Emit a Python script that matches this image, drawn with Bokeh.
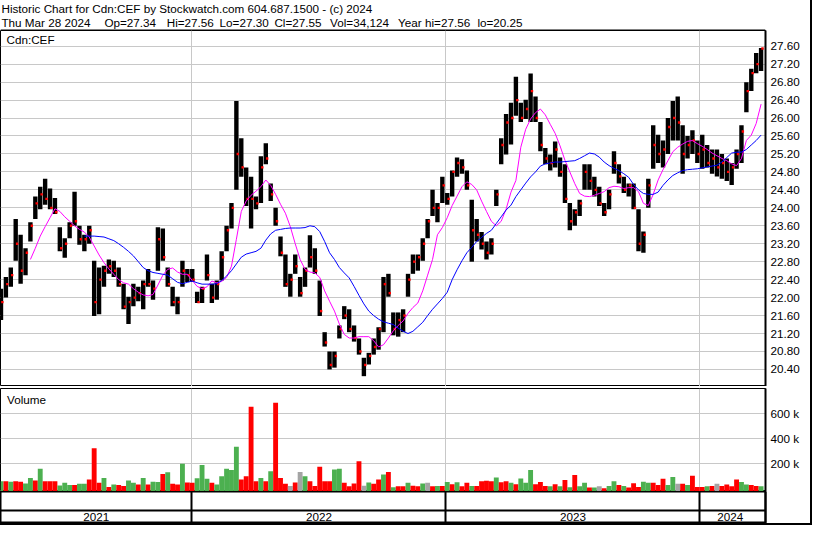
import numpy as np
import pandas as pd
from bokeh.plotting import figure
from bokeh.layouts import column
from bokeh.models import (Range1d, FixedTicker, NumeralTickFormatter, CustomJSTickFormatter,
                          Span, Label, Grid)
from bokeh.core.properties import value
from bokeh.embed import file_html
from bokeh.resources import INLINE

FONT = "Liberation Sans"
FS = "11.7px"
DAY = 86400000.0
W = 810

# ---------------- text ----------------
title_line = "Historic Chart for Cdn:CEF by Stockwatch.com 604.687.1500 - (c) 2024"
quote_items = ["Thu Mar 28 2024", "Op=27.34", "Hi=27.56", "Lo=27.30", "Cl=27.55",
               "Vol=34,124", "Year hi=27.56", "lo=20.25"]
quote_x = [1, 110, 176, 232, 290, 349, 421, 505]
symbol = "Cdn:CEF"
volume_title = "Volume"

first_day = "2021-04-01"
last_day = "2024-03-28"
year_labels = ["2021", "2022", "2023", "2024"]
year_starts = ["2022-01-01", "2023-01-01", "2024-01-01"]

price_ticks = [20.40, 20.80, 21.20, 21.60, 22.00, 22.40, 22.80, 23.20, 23.60, 24.00,
               24.40, 24.80, 25.20, 25.60, 26.00, 26.40, 26.80, 27.20, 27.60]
volume_ticks = [200000, 400000, 600000]

# ---------------- weekly price data ----------------
week_low = [21.50, 22.00, 22.24, 22.82, 22.31, 22.50, 23.25, 23.75, 23.97, 24.07,
            23.97, 23.86, 23.03, 22.89, 23.32, 23.60, 23.18, 23.03, 23.20, 21.59,
            21.63, 22.24, 22.53, 22.46, 22.24, 21.74, 21.41, 21.81, 21.92, 21.74,
            22.24, 21.95, 22.60, 22.82, 22.24, 21.81, 21.63, 22.24, 22.35, 22.35,
            21.88, 21.88, 22.38, 21.88, 21.95, 22.38, 23.03, 23.54, 24.40, 24.69,
            24.04, 23.54, 23.97, 24.11, 24.97, 24.15, 23.60, 22.92, 22.24, 22.02,
            22.53, 22.02, 22.24, 22.67, 22.53, 21.59, 20.91, 20.40, 20.44, 21.09,
            21.52, 21.23, 21.02, 20.73, 20.25, 20.51, 20.73, 20.84, 21.23, 22.02,
            21.16, 21.13, 21.23, 22.02, 22.53, 22.60, 22.82, 23.32, 23.82, 23.68,
            24.11, 24.07, 24.25, 24.69, 24.76, 24.40, 22.80, 23.25, 23.07, 22.85,
            22.96, 24.04, 24.97, 25.19, 25.41, 26.05, 25.91, 25.98, 25.91, 25.91,
            25.26, 24.97, 24.83, 24.90, 24.69, 24.11, 23.50, 23.60, 23.82, 24.40,
            24.40, 24.25, 24.04, 23.82, 23.97, 24.76, 24.54, 24.33, 24.25, 23.97,
            23.03, 23.00, 24.00, 24.87, 25.00, 24.90, 25.20, 25.50, 25.50, 24.76,
            25.10, 25.20, 25.00, 24.87, 24.90, 24.76, 24.70, 24.65, 24.60, 24.51,
            24.87, 25.00, 26.13, 26.60, 27.00, 27.05]

week_high = [22.20, 22.46, 22.67, 23.75, 23.40, 23.10, 23.68, 24.25, 24.47, 24.65,
             24.43, 24.22, 23.57, 23.32, 23.68, 24.36, 23.60, 23.40, 23.60, 22.82,
             22.67, 22.71, 22.85, 22.82, 22.67, 22.31, 22.02, 22.31, 22.24, 22.38,
             22.64, 22.38, 23.57, 23.54, 22.67, 22.24, 22.02, 22.82, 22.64, 22.64,
             22.13, 22.24, 22.96, 22.31, 22.38, 23.03, 23.60, 24.11, 26.38, 25.55,
             24.90, 24.69, 24.25, 25.15, 25.44, 24.54, 24.00, 23.36, 22.96, 22.53,
             22.96, 22.46, 22.67, 23.39, 23.10, 22.38, 21.23, 20.80, 20.80, 21.38,
             21.81, 21.74, 21.38, 21.09, 20.66, 20.77, 21.09, 21.34, 22.46, 22.53,
             21.67, 21.67, 21.74, 22.53, 22.96, 22.96, 23.32, 23.75, 24.40, 24.11,
             24.69, 24.33, 24.83, 25.12, 25.08, 24.83, 24.18, 23.75, 23.46, 23.25,
             23.32, 24.40, 25.55, 26.09, 26.34, 26.92, 26.34, 26.41, 26.99, 26.48,
             25.91, 25.33, 25.19, 25.48, 25.12, 24.97, 24.11, 23.97, 24.18, 24.97,
             24.97, 24.69, 24.47, 24.11, 24.40, 25.26, 24.97, 24.69, 24.54, 24.54,
             23.97, 23.47, 24.65, 25.84, 25.63, 25.50, 26.00, 26.38, 26.48, 25.84,
             25.60, 25.73, 25.50, 25.63, 25.40, 25.30, 25.30, 25.20, 25.10, 25.00,
             25.30, 25.84, 26.80, 27.10, 27.45, 27.56]

week_close = [21.9, 22.3, 22.5, 23.2, 22.6, 23.0, 23.6, 24.1, 24.3, 24.2,
              24.0, 23.9, 23.1, 23.2, 23.6, 23.7, 23.3, 23.3, 23.5, 21.9,
              22.4, 22.6, 22.7, 22.6, 22.3, 21.8, 21.9, 22.0, 22.1, 22.3,
              22.3, 22.2, 23.3, 22.9, 22.3, 21.9, 21.9, 22.6, 22.5, 22.4,
              21.9, 22.2, 22.5, 22.0, 22.3, 22.9, 23.5, 24.0, 25.2, 24.9,
              24.2, 24.2, 24.1, 24.9, 25.1, 24.3, 23.7, 23.0, 22.3, 22.4,
              22.7, 22.1, 22.6, 22.9, 22.6, 21.7, 21.0, 20.5, 20.7, 21.3,
              21.6, 21.3, 21.1, 20.8, 20.5, 20.7, 20.9, 21.3, 22.3, 22.1,
              21.3, 21.5, 21.6, 22.4, 22.8, 22.9, 23.2, 23.7, 24.0, 24.0,
              24.5, 24.2, 24.8, 25.0, 24.9, 24.5, 23.5, 23.4, 23.2, 23.0,
              23.2, 24.3, 25.4, 25.9, 26.0, 26.4, 26.0, 26.2, 26.6, 26.0,
              25.4, 25.1, 25.0, 25.3, 24.8, 24.2, 23.7, 23.9, 24.1, 24.8,
              24.6, 24.4, 24.1, 23.9, 24.3, 25.0, 24.7, 24.4, 24.5, 24.0,
              23.2, 23.4, 24.5, 25.4, 25.2, 25.3, 25.8, 26.0, 25.9, 25.2,
              25.4, 25.5, 25.2, 25.3, 25.0, 25.1, 24.9, 25.0, 24.8, 24.9,
              25.2, 25.7, 26.6, 27.0, 27.2, 27.55]

# moving averages, starting at given week index
ma_fast_start = 6
ma_fast = [22.85, 23.10, 23.37, 23.58, 23.78, 23.98, 23.92, 23.80, 23.70, 23.60,
           23.52, 23.46, 23.35, 23.15, 22.95, 22.78, 22.64, 22.52, 22.40, 22.33,
           22.30, 22.20, 22.12, 22.06, 22.04, 22.07, 22.28, 22.50, 22.63, 22.66,
           22.57, 22.52, 22.52, 22.38, 22.25, 22.20, 22.24, 22.37, 22.33, 22.36,
           22.45, 22.70, 23.30, 23.92, 24.15, 24.28, 24.37, 24.47, 24.62, 24.50,
           24.30, 24.08, 23.88, 23.58, 23.20, 22.85, 22.63, 22.57, 22.55, 22.45,
           22.15, 21.92, 21.70, 21.41, 21.18, 21.10, 21.10, 21.13, 21.13, 21.13,
           21.04, 20.90, 20.95, 21.10, 21.26, 21.38, 21.48, 21.65, 21.78, 21.88,
           22.15, 22.50, 22.85, 23.40, 23.56, 23.78, 24.05, 24.26, 24.47, 24.58,
           24.52, 24.40, 24.15, 23.92, 23.70, 23.60, 23.70, 23.97, 24.35, 24.61,
           25.35, 25.75, 25.98, 26.12, 26.20, 26.07, 25.86, 25.66, 25.38, 25.06,
           24.80, 24.54, 24.32, 24.26, 24.25, 24.28, 24.32, 24.36, 24.45, 24.48,
           24.47, 24.43, 24.45, 24.45, 24.36, 24.10, 24.05, 24.30, 24.62, 24.85,
           25.05, 25.25, 25.35, 25.42, 25.48, 25.50, 25.43, 25.37, 25.30, 25.22,
           25.16, 25.10, 25.05, 24.98, 24.94, 25.10, 25.50, 25.62, 25.88, 26.31]

ma_slow_start = 17
ma_slow = [23.37, 23.37, 23.37, 23.36, 23.35, 23.31, 23.27, 23.20, 23.12, 23.03,
           22.93, 22.80, 22.67, 22.60, 22.56, 22.54, 22.52, 22.50, 22.42, 22.34,
           22.31, 22.34, 22.37, 22.33, 22.30, 22.30, 22.30, 22.31, 22.38, 22.48,
           22.60, 22.75, 22.90, 22.97, 23.00, 23.03, 23.10, 23.28, 23.42, 23.50,
           23.52, 23.54, 23.55, 23.55, 23.55, 23.56, 23.60, 23.58, 23.47, 23.25,
           23.00, 22.85, 22.67, 22.55, 22.44, 22.25, 22.05, 21.86, 21.70, 21.60,
           21.52, 21.46, 21.43, 21.40, 21.32, 21.25, 21.20, 21.25, 21.35, 21.45,
           21.60, 21.74, 21.86, 21.98, 22.12, 22.40, 22.62, 22.82, 23.00, 23.12,
           23.25, 23.34, 23.43, 23.50, 23.65, 23.80, 23.95, 24.06, 24.25, 24.40,
           24.55, 24.69, 24.80, 24.93, 24.98, 25.00, 25.02, 25.02, 25.03, 25.04,
           25.05, 25.10, 25.16, 25.22, 25.20, 25.13, 25.02, 24.94, 24.88, 24.83,
           24.76, 24.68, 24.52, 24.40, 24.32, 24.30, 24.30, 24.35, 24.50, 24.62,
           24.72, 24.78, 24.83, 24.85, 24.86, 24.87, 24.89, 24.91, 24.93, 24.95,
           25.02, 25.12, 25.22, 25.24, 25.24, 25.30, 25.40, 25.50, 25.62]

# weekly volume (thousands) and bar colour code: R down, G up, Y unchanged
volume_k = [61, 60, 56, 61, 56, 43, 87, 66, 160, 61,
            61, 61, 26, 48, 30, 30, 40, 40, 74, 325,
            48, 87, 15, 35, 30, 23, 66, 48, 35, 87,
            35, 56, 54, 118, 133, 40, 35, 200, 50, 48,
            85, 190, 80, 48, 35, 100, 160, 150, 336, 74,
            100, 656, 61, 87, 61, 140, 689, 87, 40, 23,
            50, 135, 100, 60, 23, 177, 60, 60, 155, 160,
            48, 20, 42, 220, 25, 50, 40, 75, 115, 135,
            12, 20, 20, 48, 25, 20, 42, 48, 20, 23,
            23, 55, 36, 52, 20, 48, 23, 23, 60, 65,
            60, 90, 52, 60, 48, 36, 82, 48, 151, 36,
            55, 23, 20, 36, 20, 70, 12, 110, 20, 48,
            10, 10, 20, 5, 23, 61, 30, 23, 10, 45,
            15, 56, 48, 48, 30, 80, 30, 95, 40, 40,
            30, 105, 15, 15, 20, 23, 40, 23, 35, 20,
            74, 54, 35, 30, 23, 20]
volume_dir = ("GRGRRGGRGR" "RRGGGRGGRR" "RGRGRRGGRG" "RGGRGRRGRR" "GGGRGGGGGR"
              "RRRGRGRRRY" "RYGRRRRRGG" "RRRRYGRRGR" "GRRGRRGYRG" "RGRGRRGRRR"
              "RGRRGRGGGR" "RRGRGRGRGG" "RGYRGGRGRR" "RGGRRRGGYR" "GRRRGRYRRR"
              "RGGRRG")

# ---------------- helpers ----------------
def ms(s):
    return pd.Timestamp(s).value / 1e6

n = len(week_high)
centers = np.linspace(ms("2021-04-01 17:00"), ms("2024-03-28 21:00"), n)
xr = Range1d(ms("2021-04-01"), ms("2024-04-04 05:00"))
year_ms = [ms(d) for d in year_starts]
bounds = [ms(first_day)] + year_ms + [ms(last_day)]
label_mid = [(bounds[i] + bounds[i + 1]) / 2 for i in range(len(year_labels))]

GRID = "#c8c8c8"


def base_fig(height, y_range, **kw):
    p = figure(width=W, height=height, x_range=xr, y_range=y_range,
               x_axis_location=None, y_axis_location="right",
               toolbar_location=None, output_backend="svg",
               min_border_left=0, min_border_right=45,
               min_border_top=kw.get("top", 0), min_border_bottom=0,
               background_fill_color="white", border_fill_color="white")
    p.grid.visible = False
    return p


def style_axis(ax, ticks, formatter=None):
    ax.ticker = FixedTicker(ticks=ticks)
    if formatter is not None:
        ax.formatter = formatter
    ax.axis_line_color = "black"
    ax.axis_line_width = 2
    ax.major_tick_line_color = None
    ax.minor_tick_line_color = None
    ax.major_tick_out = 0
    ax.major_tick_in = 0
    ax.major_label_standoff = 5
    ax.major_label_text_font = FONT
    ax.major_label_text_font_size = FS
    ax.major_label_text_color = "black"


# ---------------- header ----------------
hdr = figure(width=W, height=30, x_range=Range1d(0, W), y_range=Range1d(0, 30),
             x_axis_location=None, y_axis_location=None, toolbar_location=None,
             output_backend="svg", min_border=0, outline_line_color=None)
hdr.grid.visible = False
hdr.text(x=[1], y=[22.5], text=[title_line], text_font=value(FONT), text_font_size=FS,
         text_baseline="middle", text_align="left", text_color="black")
hdr.text(x=quote_x, y=[8.5] * len(quote_x), text=quote_items, text_font=value(FONT),
         text_font_size=FS, text_baseline="middle", text_align="left", text_color="black")
hdr.segment(x0=[0], y0=[0.5], x1=[W], y1=[0.5], line_color="black", line_width=1)

# ---------------- price panel ----------------
pp = base_fig(356, Range1d(20.02, 27.95))
pp.add_layout(Grid(dimension=0, ticker=FixedTicker(ticks=year_ms), grid_line_color=GRID))
pp.add_layout(Grid(dimension=1, ticker=FixedTicker(ticks=price_ticks), grid_line_color=GRID))
style_axis(pp.yaxis[0], price_ticks, NumeralTickFormatter(format="0.00"))
pp.outline_line_color = "black"
pp.outline_line_width = 1

pp.vbar(x=centers, bottom=week_low, top=week_high, width=6.3 * DAY,
        fill_color="black", line_color=None)
pp.scatter(x=centers + 2.0 * DAY, y=week_close, marker="square", size=2.4,
           fill_color="#ff0000", line_color=None)
pp.line(x=centers[ma_fast_start:ma_fast_start + len(ma_fast)], y=ma_fast,
        line_color="#ff00ff", line_width=1)
pp.line(x=centers[ma_slow_start:ma_slow_start + len(ma_slow)], y=ma_slow,
        line_color="#0000ff", line_width=1)
pp.add_layout(Label(x=xr.start + 8.6 * DAY, y=27.74, text=symbol, text_font=FONT,
                    text_font_size=FS, text_baseline="middle", text_color="black"))

# ---------------- volume panel ----------------
VMIN, VMAX = -21000, 802000
pv = base_fig(105, Range1d(VMIN, VMAX), top=2)
pv.add_layout(Grid(dimension=0, ticker=FixedTicker(ticks=year_ms), grid_line_color=GRID))
pv.add_layout(Grid(dimension=1, ticker=FixedTicker(ticks=volume_ticks), grid_line_color=GRID))
style_axis(pv.yaxis[0], volume_ticks,
           CustomJSTickFormatter(code="return (tick/1000).toFixed(0) + ' k';"))
pv.outline_line_color = "black"
pv.outline_line_width = 1
cmap = {"R": "#ff0000", "G": "#4cb050", "Y": "#a4a4a4"}
vcolors = [cmap[c] for c in volume_dir]
pv.vbar(x=centers, bottom=VMIN, top=np.array(volume_k) * 1000.0, width=7.0 * DAY,
        fill_color=vcolors, line_color=None)
pv.add_layout(Label(x=xr.start + 9.5 * DAY, y=717000, text=volume_title, text_font=FONT,
                    text_font_size=FS, text_baseline="middle", text_color="black"))

# ---------------- date strip ----------------
ps = base_fig(32, Range1d(0, 1))
ps.add_layout(Grid(dimension=0, ticker=FixedTicker(ticks=year_ms), grid_line_color="black",
                   grid_line_width=2))
style_axis(ps.yaxis[0], [])
ps.yaxis[0].major_label_text_font_size = "0px"
ps.outline_line_color = "black"
ps.outline_line_width = 2
ps.add_layout(Span(location=0.41, dimension="width", line_color="black", line_width=2))
ps.text(x=label_mid, y=[0.19] * len(label_mid), text=year_labels, text_font=value(FONT),
        text_font_size=FS, text_align="center", text_baseline="middle", text_color="black")

layout = column(hdr, pp, pv, ps, styles={"outline": "2px solid black"})

open("out.html", "w").write(file_html(layout, INLINE))
